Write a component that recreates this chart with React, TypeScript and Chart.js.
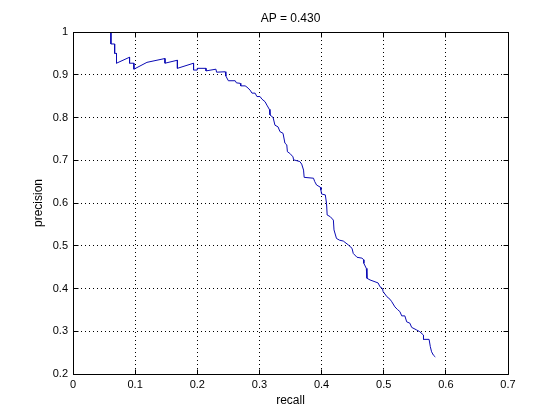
import React, { useEffect, useRef } from "react";
import { Chart, registerables } from "chart.js";

Chart.register(...registerables);

const recall = [
  0.061, 0.061, 0.067, 0.067, 0.070, 0.070, 0.091, 0.091, 0.098, 0.098,
  0.119, 0.148, 0.148, 0.168, 0.168, 0.194, 0.194, 0.200, 0.200, 0.214,
  0.214, 0.230, 0.231, 0.245, 0.246, 0.250, 0.261, 0.263, 0.269, 0.270,
  0.277, 0.280, 0.285, 0.288, 0.293, 0.296, 0.301, 0.304, 0.309, 0.312,
  0.316, 0.317, 0.322, 0.325, 0.330, 0.333, 0.338, 0.341, 0.344, 0.345,
  0.349, 0.354, 0.355, 0.365, 0.368, 0.371, 0.372, 0.387, 0.389, 0.392,
  0.398, 0.399, 0.400, 0.406, 0.408, 0.409, 0.414, 0.419, 0.420, 0.424,
  0.429, 0.435, 0.443, 0.449, 0.451, 0.457, 0.465, 0.468, 0.468, 0.472,
  0.473, 0.478, 0.491, 0.494, 0.498, 0.499, 0.505, 0.510, 0.513, 0.518,
  0.522, 0.526, 0.529, 0.534, 0.537, 0.542, 0.545, 0.553, 0.558, 0.564,
  0.564, 0.573, 0.575, 0.577, 0.580, 0.583,
];

const precision = [
  1.000, 0.972, 0.972, 0.950, 0.950, 0.927, 0.941, 0.927, 0.927, 0.913,
  0.929, 0.938, 0.927, 0.934, 0.915, 0.927, 0.911, 0.911, 0.915, 0.915,
  0.909, 0.913, 0.906, 0.907, 0.897, 0.886, 0.886, 0.881, 0.880, 0.874,
  0.874, 0.871, 0.864, 0.857, 0.857, 0.849, 0.849, 0.843, 0.837, 0.829,
  0.819, 0.806, 0.800, 0.782, 0.778, 0.767, 0.763, 0.740, 0.736, 0.720,
  0.716, 0.708, 0.701, 0.697, 0.691, 0.677, 0.660, 0.658, 0.650, 0.642,
  0.637, 0.630, 0.621, 0.619, 0.599, 0.572, 0.568, 0.560, 0.537, 0.517,
  0.513, 0.511, 0.502, 0.494, 0.482, 0.473, 0.471, 0.467, 0.459, 0.447,
  0.424, 0.420, 0.413, 0.404, 0.400, 0.393, 0.381, 0.375, 0.369, 0.357,
  0.351, 0.346, 0.336, 0.336, 0.322, 0.319, 0.309, 0.303, 0.299, 0.291,
  0.281, 0.281, 0.264, 0.252, 0.244, 0.240,
];

const xTicks = [0, 0.1, 0.2, 0.3, 0.4, 0.5, 0.6, 0.7];
const xTickLabels = ["0", "0.1", "0.2", "0.3", "0.4", "0.5", "0.6", "0.7"];
const yTicks = [0.2, 0.3, 0.4, 0.5, 0.6, 0.7, 0.8, 0.9, 1];
const yTickLabels = ["0.2", "0.3", "0.4", "0.5", "0.6", "0.7", "0.8", "0.9", "1"];

const titleText = "AP = 0.430";
const xTitle = "recall";
const yTitle = "precision";

const FONT = '"Liberation Sans", Arial, Helvetica, sans-serif';
const LINE_COLOR = "#0a0ab4";

const align = (p: number) => Math.round(p - 0.5) + 0.5;

const boxPlugin = {
  id: "matlabBox",
  afterDatasetsDraw(chart: any) {
    const { ctx, chartArea: a, scales } = chart;
    const L = align(a.left);
    const R = align(a.right);
    const T = align(a.top);
    const B = align(a.bottom);
    const tl = 5;
    ctx.save();
    ctx.strokeStyle = "#000";
    ctx.lineWidth = 1;
    ctx.setLineDash([]);
    ctx.beginPath();
    ctx.rect(L, T, R - L, B - T);
    for (const v of xTicks) {
      const x = align(scales.x.getPixelForValue(v));
      ctx.moveTo(x, B);
      ctx.lineTo(x, B - tl);
      ctx.moveTo(x, T);
      ctx.lineTo(x, T + tl);
    }
    for (const v of yTicks) {
      const y = align(scales.y.getPixelForValue(v));
      ctx.moveTo(L, y);
      ctx.lineTo(L + tl, y);
      ctx.moveTo(R, y);
      ctx.lineTo(R - tl, y);
    }
    ctx.stroke();
    ctx.restore();
  },
};

export default function App() {
  const canvasRef = useRef<HTMLCanvasElement | null>(null);

  useEffect(() => {
    if (!canvasRef.current) return;
    const data = recall.map((r, i) => ({ x: r, y: precision[i] }));
    const tickFont = { family: FONT, size: 11, weight: "normal" as const };
    const labelFont = { family: FONT, size: 12, weight: "normal" as const };
    const chart = new Chart(canvasRef.current, {
      type: "scatter",
      data: {
        datasets: [
          {
            data,
            showLine: true,
            borderColor: LINE_COLOR,
            backgroundColor: LINE_COLOR,
            borderWidth: 1,
            pointRadius: 0,
            tension: 0,
          },
        ],
      },
      plugins: [boxPlugin],
      options: {
        animation: false,
        responsive: true,
        maintainAspectRatio: false,
        layout: { padding: { top: 0, right: 52, bottom: 0, left: 0 } },
        plugins: {
          legend: { display: false },
          tooltip: { enabled: false },
          title: {
            display: true,
            text: titleText,
            fullSize: false,
            color: "#000",
            font: labelFont,
            padding: { top: 11, bottom: 6.6 },
          },
        },
        scales: {
          x: {
            type: "linear",
            min: 0,
            max: 0.7,
            afterBuildTicks: (s: any) => {
              s.ticks = xTicks.map((v) => ({ value: v }));
            },
            afterFit: (s: any) => {
              s.height = 46;
            },
            ticks: {
              callback: (v: any) => xTickLabels[xTicks.findIndex((t) => Math.abs(t - v) < 1e-9)],
              color: "#000",
              font: tickFont,
              padding: 4,
              maxRotation: 0,
              autoSkip: false,
            },
            grid: { color: "#000", lineWidth: 1, drawTicks: false },
            border: { display: false, dash: [1, 3] },
            title: {
              display: true,
              text: xTitle,
              color: "#000",
              font: labelFont,
              padding: { top: 0, bottom: 12.5 },
            },
          },
          y: {
            type: "linear",
            min: 0.2,
            max: 1,
            afterBuildTicks: (s: any) => {
              s.ticks = yTicks.map((v) => ({ value: v }));
            },
            afterFit: (s: any) => {
              s.width = 73;
            },
            ticks: {
              callback: (v: any) => yTickLabels[yTicks.findIndex((t) => Math.abs(t - v) < 1e-9)],
              color: "#000",
              font: tickFont,
              padding: 5,
              autoSkip: false,
            },
            grid: { color: "#000", lineWidth: 1, drawTicks: false },
            border: { display: false, dash: [1, 3] },
            title: {
              display: true,
              text: yTitle,
              color: "#000",
              font: labelFont,
              padding: { top: 31, bottom: 0 },
            },
          },
        },
      },
    } as any);
    return () => chart.destroy();
  }, []);

  return (
    <div
      style={{
        position: "absolute",
        left: 0,
        top: 0,
        width: 560,
        height: 420,
        background: "#fff",
      }}
    >
      <canvas ref={canvasRef} />
    </div>
  );
}
